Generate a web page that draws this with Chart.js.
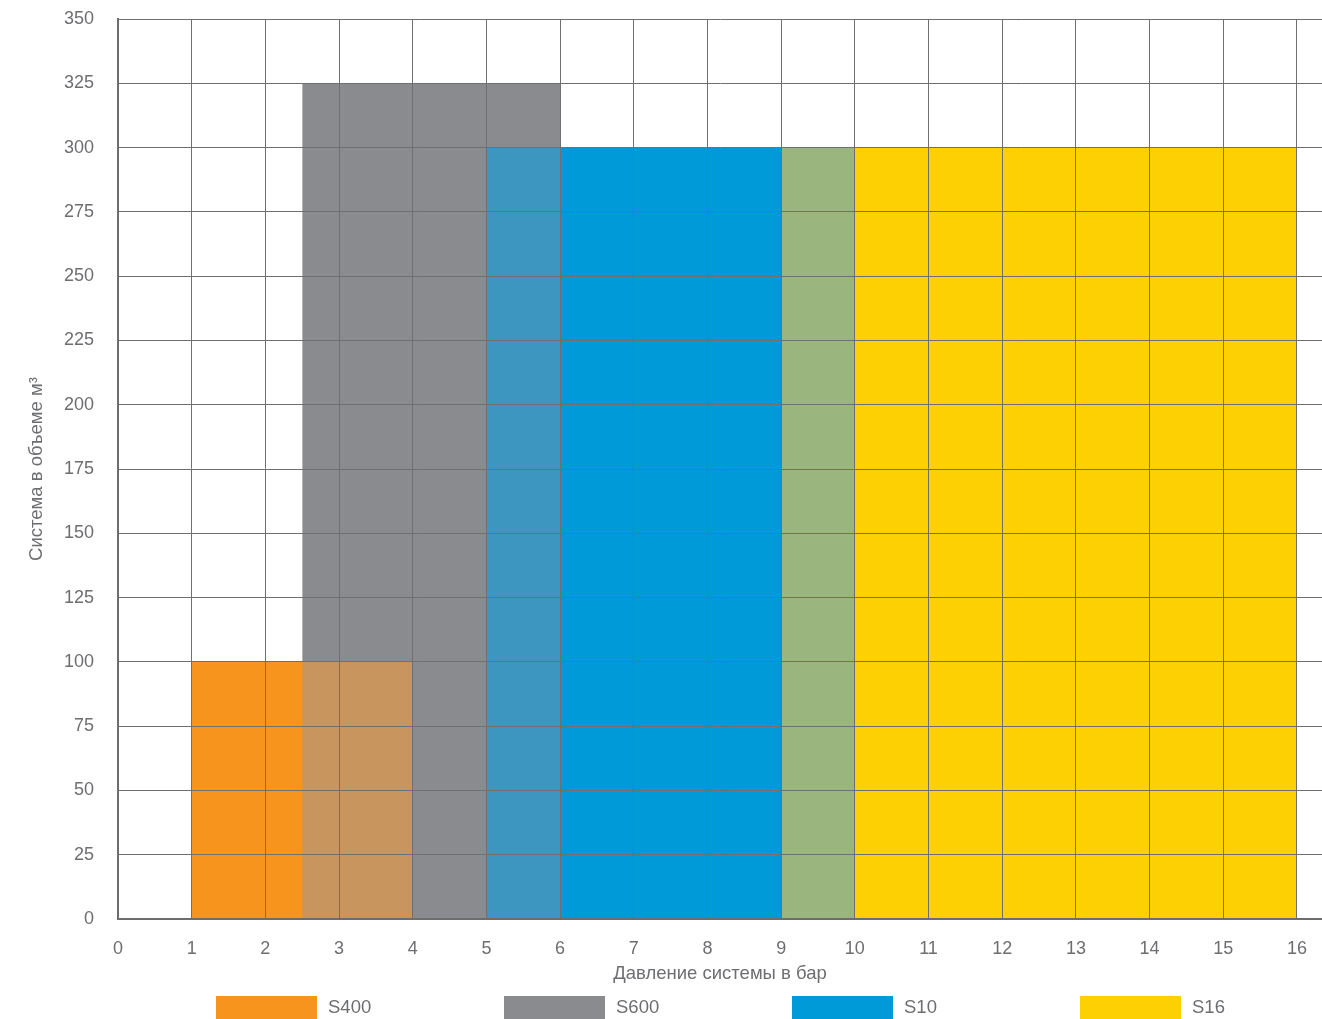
<!DOCTYPE html>
<html>
<head>
<meta charset="utf-8">
<script src="https://cdn.jsdelivr.net/npm/chart.js@4/dist/chart.umd.min.js"></script>
<style>
  html, body { margin: 0; padding: 0; background: #fff; }
  #wrap { width: 1322px; height: 1019px; }
</style>
</head>
<body>
<div id="wrap"><canvas id="myChart"></canvas></div>
<script>
// series: pressure range (bar) and max system volume (m3)
const seriesNames = ['S400', 'S600', 'S10', 'S16'];
const pressureFrom = [1, 2.5, 5, 9];
const pressureTo = [4, 6, 10, 16];
const volumeMax = [100, 325, 300, 300];

const seriesColors = ['#f7941d', '#8a8b8e', '#009ad9', '#fdd004'];
// colour of the area where two neighbouring series overlap
const overlapColors = ['#c9955e', '#3d96bf', '#9bb57f'];

const xTitle = 'Давление системы в бар';
const yTitle = 'Система в объеме м³';

const textColor = '#6d6e71';
const gridColor = '#6f6f6f';

function rectPoints(from, to, height) {
  return [
    { x: from, y: 0 },
    { x: from, y: height },
    { x: to, y: height },
    { x: to, y: 0 }
  ];
}

let datasets = [];

seriesNames.forEach((name, i) => {
  datasets.push({
    label: name,
    data: rectPoints(pressureFrom[i], pressureTo[i], volumeMax[i]),
    backgroundColor: seriesColors[i],
    borderColor: 'transparent',
    borderWidth: 0,
    pointRadius: 0,
    fill: 'origin',
    order: 1
  });
});

// overlaps between neighbouring series
for (let i = 0; i < seriesNames.length - 1; i++) {
  let from = Math.max(pressureFrom[i], pressureFrom[i + 1]);
  let to = Math.min(pressureTo[i], pressureTo[i + 1]);
  if (from < to) {
    datasets.push({
      label: '',
      overlap: true,
      data: rectPoints(from, to, Math.min(volumeMax[i], volumeMax[i + 1])),
      backgroundColor: overlapColors[i],
      borderColor: 'transparent',
      borderWidth: 0,
      pointRadius: 0,
      fill: 'origin',
      order: 0
    });
  }
}

// legend drawn under the axis title, centred on the plot area
const bottomLegend = {
  id: 'bottomLegend',
  afterDraw(chart) {
    const ctx = chart.ctx;
    const area = chart.chartArea;
    const cx = (area.left + area.right) / 2;
    const spacing = 288;
    const boxW = 101;
    const boxH = 24;
    const top = area.bottom + 77;
    let items = chart.data.datasets.filter(d => !d.overlap);
    let startX = cx - spacing * (items.length - 1) / 2 - 72;

    ctx.save();
    ctx.font = '18.5px "Liberation Sans", Arial, sans-serif';
    ctx.textBaseline = 'middle';
    ctx.textAlign = 'left';
    items.forEach((d, i) => {
      let x = startX + i * spacing;
      ctx.fillStyle = d.backgroundColor;
      ctx.fillRect(x, top, boxW, boxH);
      ctx.fillStyle = textColor;
      ctx.fillText(d.label, x + boxW + 11, top + 12);
    });
    ctx.restore();
  }
};

const myChart = document.getElementById('myChart');
new Chart(myChart, {
  type: 'line',
  data: { datasets: datasets },
  plugins: [bottomLegend],
  options: {
    responsive: true,
    maintainAspectRatio: false,
    animation: false,
    layout: {
      padding: { top: 19, right: 0, bottom: 30, left: 0 }
    },
    plugins: {
      legend: { display: false },
      tooltip: { enabled: false }
    },
    elements: {
      line: { tension: 0 }
    },
    scales: {
      x: {
        type: 'linear',
        min: 0,
        max: 16.34,
        afterFit: (scale) => {
          scale.height = 70;
          scale.paddingLeft = 0;
          scale.paddingRight = 0;
        },
        border: { color: '#6d6d6d', width: 2, z: 2 },
        grid: { color: gridColor, lineWidth: 1, drawTicks: false, z: 1 },
        ticks: {
          stepSize: 1,
          includeBounds: false,
          autoSkip: false,
          maxRotation: 0,
          padding: 19,
          color: textColor,
          font: { family: 'Liberation Sans', size: 18 }
        },
        title: {
          display: true,
          text: xTitle,
          color: textColor,
          padding: { top: 0, bottom: 4 },
          font: { family: 'Liberation Sans', size: 18.5 }
        }
      },
      y: {
        min: 0,
        max: 350,
        afterFit: (scale) => {
          scale.width = 118;
          scale.paddingTop = 0;
          scale.paddingBottom = 0;
        },
        border: { color: '#6d6d6d', width: 2, z: 2 },
        grid: { color: gridColor, lineWidth: 1, drawTicks: false, z: 1 },
        ticks: {
          stepSize: 25,
          autoSkip: false,
          padding: 24,
          color: textColor,
          font: { family: 'Liberation Sans', size: 18 }
        },
        title: {
          display: true,
          text: yTitle,
          color: textColor,
          padding: { top: 26, bottom: 0 },
          font: { family: 'Liberation Sans', size: 18.5 }
        }
      }
    }
  }
});
</script>
</body>
</html>
